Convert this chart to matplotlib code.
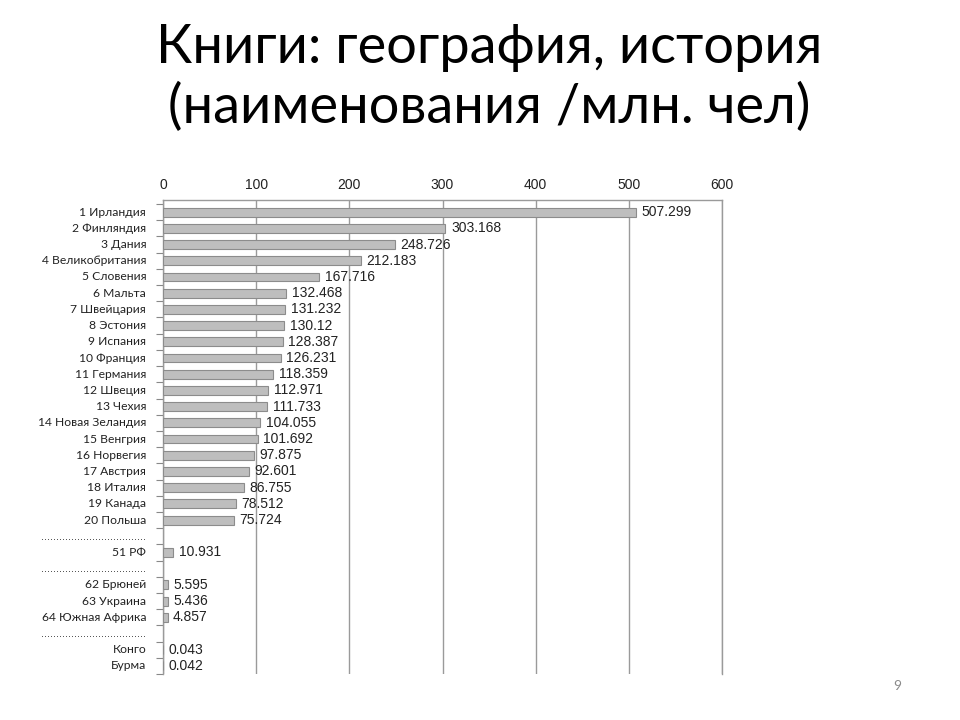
import matplotlib
matplotlib.use("Agg")
import matplotlib.pyplot as plt
import numpy as np

title = "Книги: география, история\n(наименования /млн. чел)"
categories = ["1 Ирландия", "2 Финляндия", "3 Дания", "4 Великобритания", "5 Словения",
              "6 Мальта", "7 Швейцария", "8 Эстония", "9 Испания", "10 Франция",
              "11 Германия", "12 Швеция", "13 Чехия", "14 Новая Зеландия", "15 Венгрия",
              "16 Норвегия", "17 Австрия", "18 Италия", "19 Канада", "20 Польша",
              None, "51 РФ", None, "62 Брюней", "63 Украина", "64 Южная Африка",
              None, "Конго", "Бурма"]
values = [507.299, 303.168, 248.726, 212.183, 167.716, 132.468, 131.232, 130.12, 128.387,
          126.231, 118.359, 112.971, 111.733, 104.055, 101.692, 97.875, 92.601, 86.755,
          78.512, 75.724, None, 10.931, None, 5.595, 5.436, 4.857, None, 0.043, 0.042]
value_labels = ["507.299", "303.168", "248.726", "212.183", "167.716", "132.468", "131.232",
                "130.12", "128.387", "126.231", "118.359", "112.971", "111.733", "104.055",
                "101.692", "97.875", "92.601", "86.755", "78.512", "75.724", None, "10.931",
                None, "5.595", "5.436", "4.857", None, "0.043", "0.042"]
xticks = [0, 100, 200, 300, 400, 500, 600]

fig = plt.figure(figsize=(9.6, 7.2), dpi=100)
fig.text(0.51, 0.893, title, ha="center", va="center", fontsize=39,
         family=["Lato", "DejaVu Sans"], linespacing=1.24)

ax = fig.add_axes([0.1698, 0.0639, 0.5823, 0.6583])
n = len(categories)
ax.set_xlim(0, 600)
ax.set_ylim(n - 0.5, -0.75)

for i, (v, lab) in enumerate(zip(values, value_labels)):
    if v is None:
        continue
    ax.barh(i, v, height=0.55, color="#bebebe", edgecolor="#8c8c8c", linewidth=0.8, zorder=3)
    ax.text(v + 6, i, lab, va="center", ha="left", fontsize=10,
            family="Liberation Sans", color="#222222", zorder=4)

ax.set_xticks(xticks)
ax.xaxis.tick_top()
ax.tick_params(axis="x", length=0, pad=6, labelsize=10, labelcolor="#222222")
for t in ax.get_xticklabels():
    t.set_family("Liberation Sans")
ax.grid(axis="x", color="#9a9a9a", linewidth=1.0, zorder=0)

ax.set_yticks(np.arange(n + 1) - 0.5, minor=False)
ax.set_yticklabels([])
ax.tick_params(axis="y", length=5, direction="out", color="#888888", width=0.8)

for i, c in enumerate(categories):
    if c is None:
        ax.text(-0.03, i + 0.05, "." * 35, transform=ax.get_yaxis_transform(),
                ha="right", va="center", fontsize=7, color="#333333")
    else:
        ax.text(-0.03, i, c, transform=ax.get_yaxis_transform(), ha="right", va="center",
                fontsize=8.7, family=["Lato", "DejaVu Sans"], color="#222222")

ax.spines["bottom"].set_visible(False)
for s in ["top", "left", "right"]:
    ax.spines[s].set_color("#9a9a9a")
    ax.spines[s].set_linewidth(1.0)

fig.text(0.935, 0.047, "9", ha="center", va="center", fontsize=10, color="#8a8a8a",
         family=["Lato", "DejaVu Sans"])

fig.savefig("out.png", dpi=100)
